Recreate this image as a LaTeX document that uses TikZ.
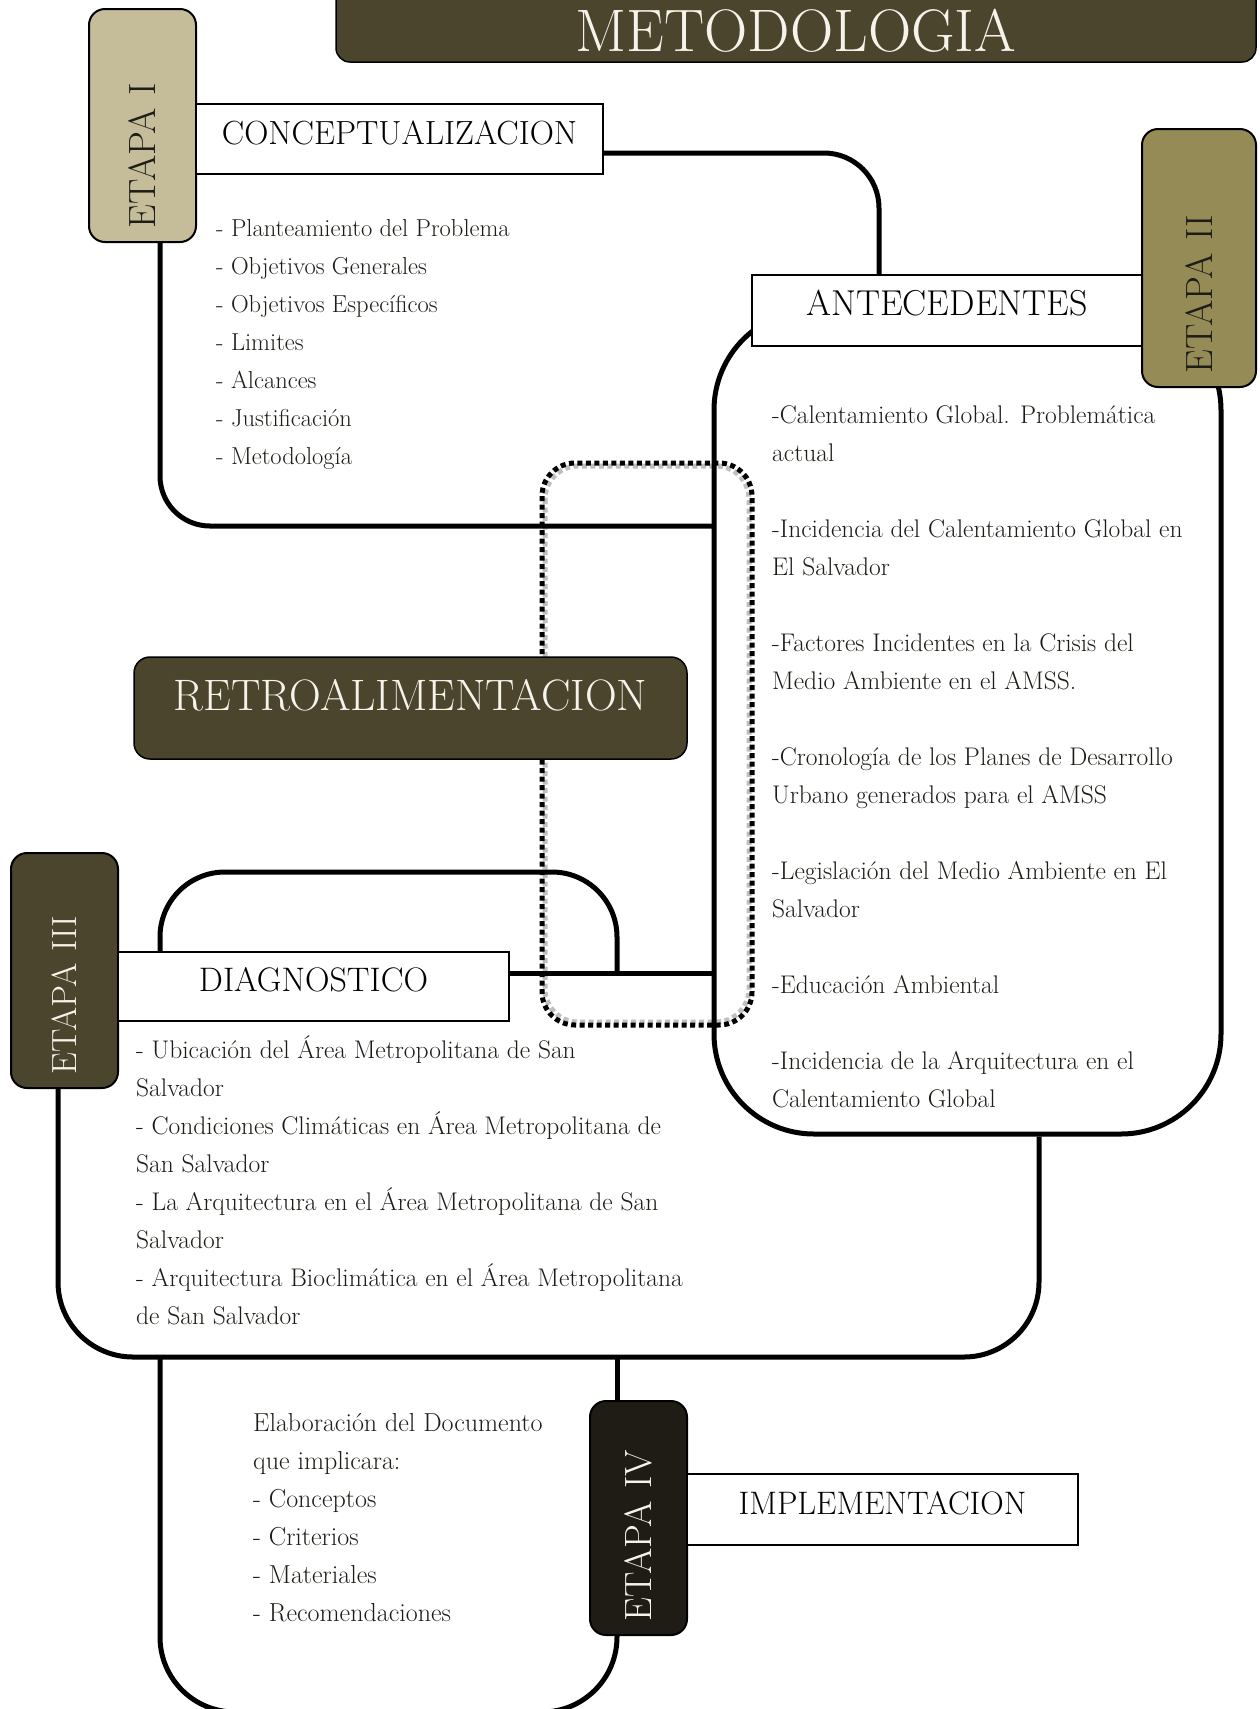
\documentclass[tikz,border=0pt]{standalone}
\usepackage{fontspec}
\usepackage{tikz}
\usetikzlibrary{positioning}
\definecolor{olivaosc}{RGB}{75,69,46}
\definecolor{arena}{RGB}{197,189,153}
\definecolor{oliva}{RGB}{149,139,86}
\definecolor{negruzco}{RGB}{31,28,21}
\definecolor{crema}{RGB}{246,243,234}
\definecolor{textoosc}{RGB}{30,28,22}

\begin{document}
\begin{tikzpicture}[x=1pt,y=-1pt,
    linea/.style={line width=5pt,black},
    marco/.style={draw,line width=5pt,rounded corners=100pt,inner sep=0pt},
    caja/.style={draw,line width=1.5pt,fill=white,inner sep=0pt,text height=24pt,text depth=14pt},
    etapa/.style={draw,line width=2pt,fill=#1,rounded corners=16pt,rotate=90,inner xsep=14pt,inner ysep=0pt,align=left,font=\fontsize{38}{38}\selectfont},
    lista/.style={anchor=north west,inner sep=0pt,align=left,text=textoosc,font=\fontsize{#1}{38}\selectfont},
    punteado/.style={line width=5pt,dash pattern=on 5pt off 3.5pt,rounded corners=33pt}]
    \clip (0,0) rectangle (1259,1709);
    % Retroalimentacion (lazo punteado)
    \draw[punteado,gray!50] (545,466) rectangle (749,1022);
    \draw[punteado,black] (542,463) rectangle (752,1025);
    % Etapa II
    \node[marco,minimum width=507pt,minimum height=824pt] (marcoII) at (967.5,722) {};
    \coordinate (j1) at (714,526);
    \coordinate (j2) at (617,973);
    \coordinate (j3) at (1039,1357);
    \coordinate (j4) at (160,1357);
    \coordinate (j5) at (617,1357);
    \node[caja,minimum width=390pt,minimum height=71pt,font=\fontsize{36}{36}\selectfont] (antec) at (947,310.5) {ANTECEDENTES};
    \node[etapa=oliva,text width=230pt,minimum height=114pt,text=textoosc] (etapaII) at (1199,258) {ETAPA II};
    \node[lista=25.5] (listaII) at (772,405) {-Calentamiento Global. Problemática\\actual\\[38pt]-Incidencia del Calentamiento Global en\\El Salvador\\[38pt]-Factores Incidentes en la Crisis del\\Medio Ambiente en el AMSS.\\[38pt]-Cronología de los Planes de Desarrollo\\Urbano generados para el AMSS\\[38pt]-Legislación del Medio Ambiente en El\\Salvador\\[38pt]-Educación Ambiental\\[38pt]-Incidencia de la Arquitectura en el\\Calentamiento Global};
    % Titulo
    \node[draw,line width=1.5pt,fill=olivaosc,rounded corners=14pt,minimum width=920pt,minimum height=92pt,inner sep=0pt,text=crema,font=\fontsize{60}{60}\selectfont,text height=71pt,text depth=0pt] (titulo) at (796,16) {METODOLOGIA};
    % Etapa I
    \node[etapa=arena,text width=205pt,minimum height=107pt,text=textoosc] (etapaI) at (142.5,125.5) {ETAPA I};
    \node[caja,minimum width=407pt,minimum height=70pt,font=\fontsize{33.5}{33.5}\selectfont] (concept) at (399.5,139) {CONCEPTUALIZACION};
    \node[lista=24.5] (listaI) at (216,219) {- Planteamiento del Problema\\- Objetivos Generales\\- Objetivos Específicos\\- Limites\\- Alcances\\- Justificación\\- Metodología};
    \draw[linea,rounded corners=50pt] ([xshift=17.5pt]etapaI.west) |- (j1);
    \draw[linea,rounded corners=55pt] ([yshift=-14pt]concept.east) -| ([xshift=-68pt]antec.north);
    % Retroalimentacion
    \node[draw,line width=1.5pt,fill=olivaosc,rounded corners=16pt,minimum width=553pt,minimum height=102pt,inner sep=0pt,text=crema,font=\fontsize{44}{44}\selectfont,text height=30pt,text depth=26pt] (retro) at (410.5,708) {RETROALIMENTACION};
    % Etapa III
    \node[etapa=olivaosc,text width=207pt,minimum height=107pt,text=crema,font=\fontsize{35}{35}\selectfont] (etapaIII) at (64.5,970.5) {ETAPA III};
    \draw[linea,rounded corners=65pt] (j4 |- 0,952) |- ([yshift=101pt]j2) -- (j2);
    \draw[linea,rounded corners=75pt] ([xshift=-6.5pt]etapaIII.west) |- (j3) -- (j3 |- marcoII.south);
    \node[caja,minimum width=391pt,minimum height=69pt,font=\fontsize{34}{34}\selectfont] (diag) at (313.5,986.5) {DIAGNOSTICO};
    \draw[linea] ([yshift=13.5pt]diag.east) -- (marcoII.west |- j2);
    \node[lista=25.5] (listaIII) at (136,1035) {- Ubicación del Área Metropolitana de San\\Salvador\\- Condiciones Climáticas en Área Metropolitana de\\San Salvador\\- La Arquitectura en el Área Metropolitana de San\\Salvador\\- Arquitectura Bioclimática  en el Área Metropolitana\\de San Salvador};
    % Etapa IV
    \node[etapa=negruzco,text width=206pt,minimum height=97pt,text=crema] (etapaIV) at (638.5,1518) {ETAPA IV};
    \draw[linea] (j5) -- (j5 |- etapaIV.east);
    \draw[linea,rounded corners=75pt] (j4) -- ++(0,355) -| (j5 |- etapaIV.west);
    \node[caja,minimum width=391pt,minimum height=71pt,font=\fontsize{32.5}{32.5}\selectfont] (implem) at (882.5,1509.5) {IMPLEMENTACION};
    \node[lista=26] (listaIV) at (253,1413) {Elaboración del Documento\\que implicara:\\- Conceptos\\- Criterios\\- Materiales\\- Recomendaciones};
\end{tikzpicture}
\end{document}
